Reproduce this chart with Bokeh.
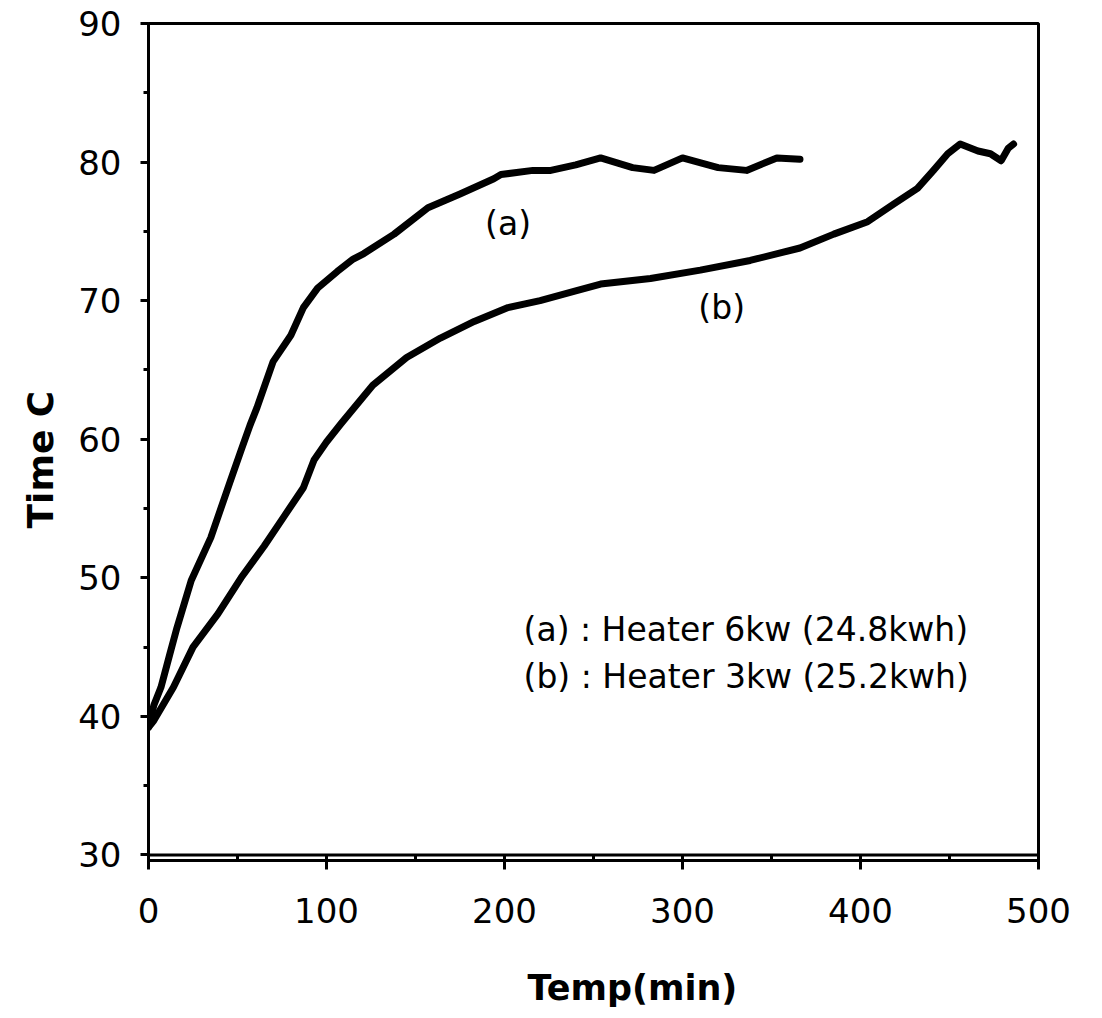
from bokeh.plotting import figure
from bokeh.models import Label, SingleIntervalTicker, Range1d, Span, Title
from bokeh.embed import file_html
from bokeh.resources import INLINE

# Curve (a): Heater 6kw
a_x = [0, 3, 7, 12, 16, 24, 35, 46, 52, 57, 61, 70, 80, 87, 95, 106, 115, 121,
       138, 157, 175, 194, 198, 216, 226, 240, 254, 272, 284, 300, 320, 336, 353, 366]
a_y = [39.2, 40.8, 42.1, 44.5, 46.4, 49.8, 52.9, 57.0, 59.2, 61.0, 62.3, 65.6, 67.5,
       69.5, 70.9, 72.1, 73.0, 73.4, 74.8, 76.7, 77.7, 78.8, 79.1, 79.4, 79.4, 79.8,
       80.3, 79.6, 79.4, 80.3, 79.6, 79.4, 80.3, 80.2]

# Curve (b): Heater 3kw
b_x = [0, 3, 14, 25, 39, 52, 65, 76, 87, 93, 100, 108, 126, 145, 164, 183, 202, 220,
       240, 254, 282, 310, 338, 366, 385, 404, 419, 432, 441, 449, 456, 466, 473, 479,
       483, 486]
b_y = [39.2, 39.7, 42.1, 45.0, 47.4, 50.0, 52.3, 54.4, 56.5, 58.5, 59.8, 61.1, 63.9,
       65.9, 67.3, 68.5, 69.5, 70.0, 70.7, 71.2, 71.6, 72.2, 72.9, 73.8, 74.8, 75.7,
       77.0, 78.1, 79.4, 80.6, 81.3, 80.8, 80.6, 80.1, 81.0, 81.3]

x_label = "Temp(min)"
y_label = "Time C"
legend_lines = ["(a) : Heater 6kw (24.8kwh)", "(b) : Heater 3kw (25.2kwh)"]

FONT = "DejaVu Sans"

p = figure(width=1084, height=1016,
           x_range=Range1d(0, 500), y_range=Range1d(29.6, 90),
           output_backend="svg", toolbar_location=None,
           min_border_left=148, min_border_right=46,
           min_border_top=23, min_border_bottom=156)

p.background_fill_color = "white"
p.border_fill_color = "white"
p.xgrid.visible = False
p.ygrid.visible = False
p.outline_line_color = "black"
p.outline_line_width = 3

# axes
p.xaxis.ticker = SingleIntervalTicker(interval=100, num_minor_ticks=2)
p.yaxis.ticker = SingleIntervalTicker(interval=10, num_minor_ticks=2)
for ax in (p.xaxis, p.yaxis):
    ax.axis_line_color = "black"
    ax.axis_line_width = 3
    ax.major_tick_line_color = "black"
    ax.major_tick_line_width = 3
    ax.minor_tick_line_color = "black"
    ax.minor_tick_line_width = 3
    ax.major_label_text_font = FONT
    ax.major_label_text_font_size = "34px"
    ax.major_label_text_color = "black"
    ax.major_tick_in = 0

p.yaxis.major_tick_out = 8
p.yaxis.minor_tick_out = 5
p.yaxis.minor_tick_in = 0
p.yaxis.major_label_standoff = 19

p.xaxis.major_tick_out = 9
p.xaxis.minor_tick_out = 0
p.xaxis.minor_tick_in = 5
p.xaxis.major_label_standoff = 28

# double bottom line
p.add_layout(Span(location=30, dimension="width", line_color="black", line_width=3))

# curves
p.line(a_x, a_y, line_color="black", line_width=7, line_join="round", line_cap="round")
p.line(b_x, b_y, line_color="black", line_width=7, line_join="round", line_cap="round")

# curve tags
p.add_layout(Label(x=202, y=75.6, text="(a)", text_font=FONT, text_font_size="33px",
                   text_align="center", text_baseline="middle", text_color="black"))
p.add_layout(Label(x=322, y=69.5, text="(b)", text_font=FONT, text_font_size="33px",
                   text_align="center", text_baseline="middle", text_color="black"))

# legend text
p.add_layout(Label(x=210.7, y=46.25, text=legend_lines[0], text_font=FONT,
                   text_font_size="33px", text_align="left", text_baseline="middle",
                   text_color="black"))
p.add_layout(Label(x=210.7, y=42.9, text=legend_lines[1], text_font=FONT,
                   text_font_size="33px", text_align="left", text_baseline="middle",
                   text_color="black"))

# axis titles
p.add_layout(Title(text="\n" + x_label, align="left", offset=379, text_font=FONT,
                   text_font_size="35px", text_font_style="bold", text_color="black",
                   standoff=0), "below")
p.add_layout(Title(text=y_label, align="left", offset=332, text_font=FONT,
                   text_font_size="36px", text_font_style="bold", text_color="black",
                   standoff=30), "left")

open("out.html", "w").write(file_html(p, INLINE))
